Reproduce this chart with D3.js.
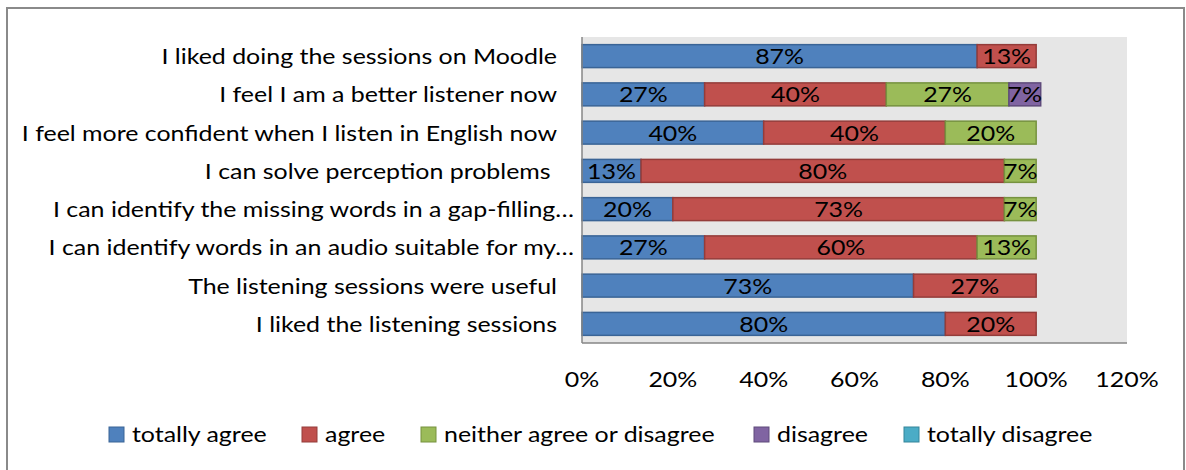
<!DOCTYPE html>
<html>
<head>
<meta charset="utf-8">
<script src="https://cdn.jsdelivr.net/npm/d3@7"></script>
<style>
  body { margin: 0; background: #fff; }
  #chart text { font-family: Lato, "Open Sans", sans-serif; fill: #000; font-size: 21.5px; white-space: pre; }
</style>
</head>
<body>
<div id="chart"></div>
<script>

// categories, top to bottom
var categories = [
  "I liked doing the sessions on Moodle",
  "I feel I am a better listener now",
  "I feel more confident when I listen in English now",
  "I can solve perception problems ",
  "I can identify the missing words in a gap-filling\u2026",
  "I can identify words in an audio suitable for my\u2026",
  "The listening sessions were useful",
  "I liked the listening sessions"
];

var seriesNames = ["totally agree", "agree", "neither agree or disagree", "disagree", "totally disagree"];

// percentages per series, same order as categories
var totallyAgree   = [87, 27, 40, 13, 20, 27, 73, 80];
var agree          = [13, 40, 40, 80, 73, 60, 27, 20];
var neither        = [0, 27, 20, 7, 7, 13, 0, 0];
var disagree       = [0, 7, 0, 0, 0, 0, 0, 0];
var totallyDisagree = [0, 0, 0, 0, 0, 0, 0, 0];

var xTicks = [0, 20, 40, 60, 80, 100, 120];

var fills   = ["#4f81bd", "#c0504d", "#9bbb59", "#8064a2", "#4bacc6"];
var strokes = ["#3a6496", "#943c3a", "#76923f", "#5f4a7b", "#35859a"];

// the reference text is a little wider than Lato, stretch it
var SX = 1.16;

function place(sel, fx, fy) {
  sel.attr("transform", function(d, i) {
    return "translate(" + fx(d, i) + "," + fy(d, i) + ") scale(" + SX + ",1)";
  });
}

Bar = function(_parentElement) {
  this.parentElement = _parentElement;
  this.width = 1186;
  this.height = 470;
  this.initVis();
};

Bar.prototype.initVis = function() {
  var vis = this;

  vis.svg = d3.select(vis.parentElement).append("svg")
    .attr("width", vis.width)
    .attr("height", vis.height);

  // outer frame
  vis.svg.append("rect")
    .attr("x", 7).attr("y", 8)
    .attr("width", 1177).attr("height", 480)
    .attr("fill", "#fff")
    .attr("stroke", "#8a8a8a")
    .attr("stroke-width", 2);

  vis.plot = { left: 582, right: 1127, top: 37, bottom: 343 };

  vis.x = d3.scaleLinear().domain([0, 120]).range([vis.plot.left, vis.plot.right]);
  vis.y = d3.scaleBand().domain(categories).range([vis.plot.top, vis.plot.bottom]).paddingInner(0.4).paddingOuter(0.2);

  vis.svg.append("rect")
    .attr("x", vis.plot.left).attr("y", vis.plot.top)
    .attr("width", vis.plot.right - vis.plot.left)
    .attr("height", vis.plot.bottom - vis.plot.top)
    .attr("fill", "#e6e6e6");

  vis.createVis();
};

Bar.prototype.createVis = function() {
  var vis = this;

  var rows = categories.map(function(c, i) {
    return { cat: c, values: [totallyAgree[i], agree[i], neither[i], disagree[i], totallyDisagree[i]] };
  });

  var stack = d3.stack().keys([0, 1, 2, 3, 4]).value(function(d, k) { return d.values[k]; });
  var layers = stack(rows);

  var layer = vis.svg.selectAll(".layer")
    .data(layers)
    .enter().append("g")
    .attr("class", "layer");

  layer.selectAll("rect")
    .data(function(d) { return d.filter(function(s) { return s[1] > s[0]; }); })
    .enter().append("rect")
    .attr("x", function(d) { return vis.x(d[0]); })
    .attr("y", function(d) { return vis.y(d.data.cat); })
    .attr("width", function(d) { return vis.x(d[1]) - vis.x(d[0]); })
    .attr("height", vis.y.bandwidth())
    .attr("fill", function() { return fills[d3.select(this.parentNode).datum().key]; })
    .attr("stroke", function() { return strokes[d3.select(this.parentNode).datum().key]; })
    .attr("stroke-width", 1.5);

  var seg = layer.selectAll("text")
    .data(function(d) { return d.filter(function(s) { return s[1] > s[0]; }); })
    .enter().append("text")
    .attr("dy", "0.37em")
    .attr("text-anchor", "middle")
    .text(function(d) { return (d[1] - d[0]) + "%"; });
  place(seg,
    function(d) { return (vis.x(d[0]) + vis.x(d[1])) / 2; },
    function(d) { return vis.y(d.data.cat) + vis.y.bandwidth() / 2; });

  // axes lines
  vis.svg.append("line")
    .attr("x1", vis.plot.left).attr("x2", vis.plot.left)
    .attr("y1", vis.plot.top).attr("y2", vis.plot.bottom)
    .attr("stroke", "#868686").attr("stroke-width", 1.5);
  vis.svg.append("line")
    .attr("x1", vis.plot.left).attr("x2", vis.plot.right)
    .attr("y1", vis.plot.bottom).attr("y2", vis.plot.bottom)
    .attr("stroke", "#868686").attr("stroke-width", 1.5);

  // category labels
  var cat = vis.svg.selectAll(".cat")
    .data(categories)
    .enter().append("text")
    .attr("class", "cat")
    .attr("dy", "0.37em")
    .attr("text-anchor", "end")
    .text(function(d) { return d; });
  place(cat,
    function(d) { return d.slice(-1) === "\u2026" ? 574 : 557; },
    function(d) { return vis.y(d) + vis.y.bandwidth() / 2; });

  // x tick labels
  var ticks = vis.svg.selectAll(".tick-label")
    .data(xTicks)
    .enter().append("text")
    .attr("class", "tick-label")
    .attr("dy", "0.37em")
    .attr("text-anchor", "middle")
    .text(function(d) { return d + "%"; });
  place(ticks, function(d) { return vis.x(d); }, function() { return 379; });

  vis.updateVis();
};

Bar.prototype.updateVis = function() {
  var vis = this;

  var legendX = [109, 302, 421, 754, 904];

  var item = vis.svg.selectAll(".legend")
    .data(seriesNames)
    .enter().append("g")
    .attr("class", "legend")
    .attr("transform", function(d, i) { return "translate(" + legendX[i] + ",434)"; });

  item.append("rect")
    .attr("x", 0).attr("y", -7)
    .attr("width", 15).attr("height", 15)
    .attr("fill", function(d, i) { return fills[i]; })
    .attr("stroke", function(d, i) { return strokes[i]; })
    .attr("stroke-width", 1);

  item.append("text")
    .attr("transform", "translate(23,0) scale(" + SX + ",1)")
    .attr("dy", "0.37em")
    .text(function(d) { return d; });
};

new Bar("#chart");

</script>
</body>
</html>
